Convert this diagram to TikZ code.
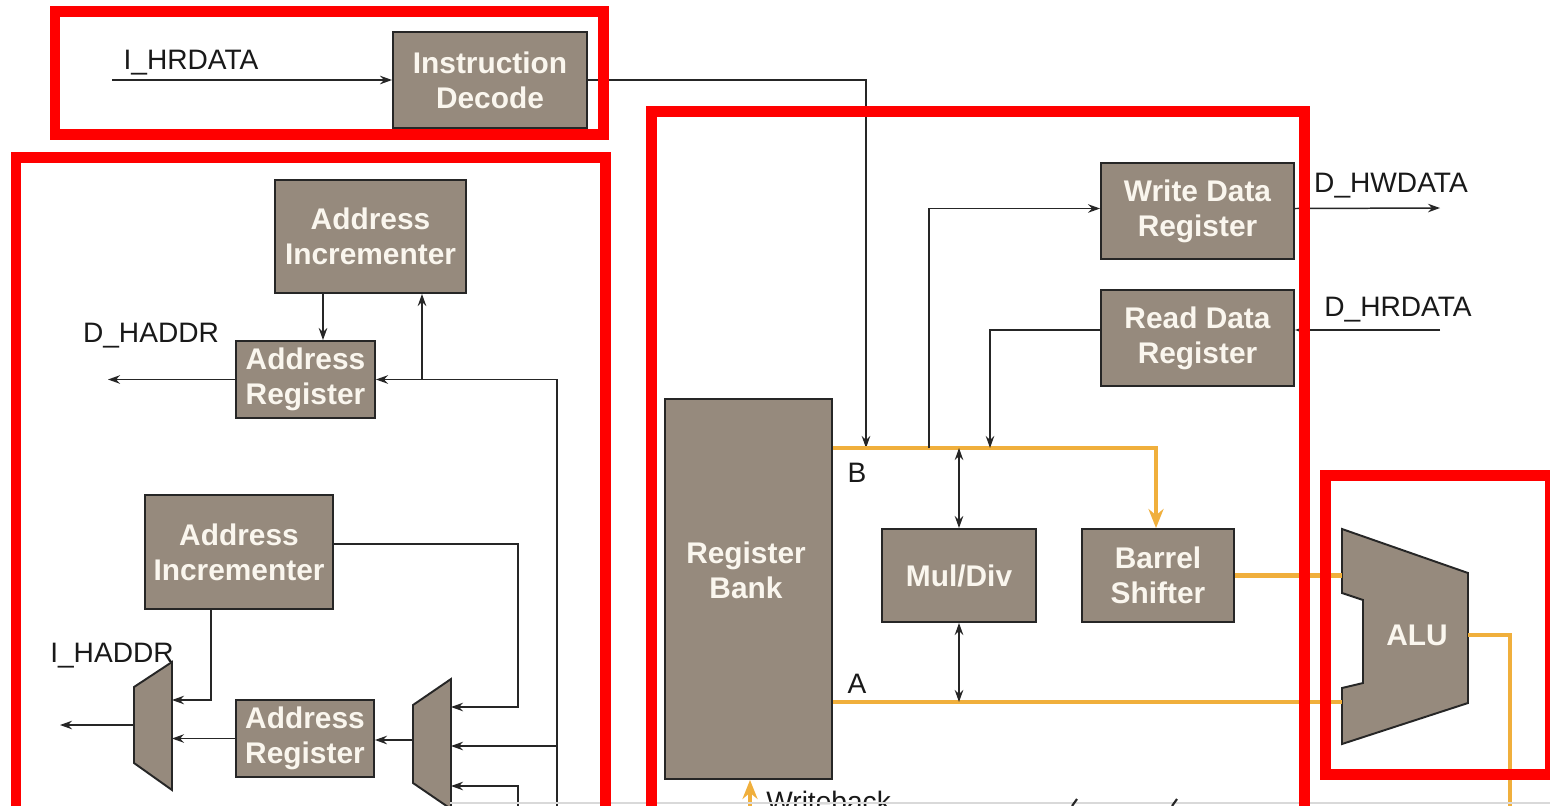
\documentclass[tikz,border=0pt]{standalone}
\usepackage{fontspec}
\setmainfont{Liberation Sans}
\usetikzlibrary{arrows.meta}
\definecolor{boxfill}{RGB}{150,138,125}
\definecolor{boxtext}{RGB}{250,246,238}
\definecolor{busor}{RGB}{240,175,60}
\definecolor{frred}{RGB}{255,0,0}
\begin{document}
\begin{tikzpicture}[x=0.02cm, y=-0.02cm,
  blk/.style={draw=black!85, line width=1.1pt, fill=boxfill, text=boxtext,
    font=\bfseries\fontsize{17}{20}\selectfont, align=center, inner sep=0pt},
  blktext/.style={text=boxtext, font=\bfseries\fontsize{17}{20}\selectfont, align=center, inner sep=0pt},
  lbl/.style={font=\fontsize{16}{19}\selectfont, text=black!90, inner sep=0pt, anchor=base},
  arr/.style={draw=black!85, line width=0.85pt, -{Stealth[length=0.24cm,width=0.17cm]}},
  darr/.style={draw=black!85, line width=0.85pt, {Stealth[length=0.24cm,width=0.17cm]}-{Stealth[length=0.24cm,width=0.17cm]}},
  plain/.style={draw=black!85, line width=0.85pt},
  bus/.style={draw=busor, line width=2.6pt},
  busarr/.style={draw=busor, line width=2.6pt, -{Stealth[length=0.38cm,width=0.3cm]}},
  muxst/.style={draw=black!85, line width=1.1pt, fill=boxfill},
  frame/.style={draw=frred, line width=0.22cm}]
\useasboundingbox (0,0) rectangle (1550,805);
\clip (0,0) rectangle (1550,805);
\fill[white] (0,0) rectangle (1550,805);

% ---------- blocks ----------
\node[blk, minimum width=3.88cm, minimum height=1.92cm] (idec) at (490,80) {Instruction\\Decode};
\node[blk, minimum width=3.82cm, minimum height=2.26cm] (inc1) at (370.5,236.5) {Address\\Incrementer};
\node[blk, minimum width=2.78cm, minimum height=1.54cm] (ar1) at (305.5,379.5) {Address\\Register};
\node[blk, minimum width=3.76cm, minimum height=2.28cm] (inc2) at (239,552) {Address\\Incrementer};
\node[blk, minimum width=2.76cm, minimum height=1.54cm] (ar2) at (305,738.5) {Address\\Register};
\node[blk, minimum width=3.86cm, minimum height=1.92cm] (wdr) at (1197.5,211) {Write Data\\Register};
\node[blk, minimum width=3.86cm, minimum height=1.92cm] (rdr) at (1197.5,338) {Read Data\\Register};
\node[blk, minimum width=3.34cm, minimum height=7.6cm] (rb) at (748.5,589) {};
\node[blktext] (rbt) at (746,570) {Register\\Bank};
\node[blk, minimum width=3.08cm, minimum height=1.86cm] (md) at (959,575.5) {Mul/Div};
\node[blk, minimum width=3.04cm, minimum height=1.86cm] (bs) at (1158,575.5) {Barrel\\Shifter};

% ALU
\draw[muxst] (1342,529) -- (1468,573) -- (1468,703) -- (1342,744) -- (1342,688)
  -- (1363,683) -- (1363,600) -- (1342,593) -- cycle;
\node[blktext] (alu) at (1417,635) {ALU};
\coordinate (aluin) at (1342,0);
\coordinate (aluout) at (1468,635);

% muxes
\draw[muxst] (134,687) -- (172,662) -- (172,790) -- (134,763) -- cycle;
\draw[muxst] (413,705) -- (451,679) -- (451,809) -- (413,783) -- cycle;
\coordinate (m1out) at (134,725);
\coordinate (m1in) at (172,0);
\coordinate (m2out) at (413,740);
\coordinate (m2in) at (451,0);

% ---------- labels ----------
\node[lbl] (lihr) at (191,69) {I\_HRDATA};
\node[lbl] (ldha) at (151,342) {D\_HADDR};
\node[lbl] (liha) at (112,662) {I\_HADDR};
\node[lbl] (ldhw) at (1391,192) {D\_HWDATA};
\node[lbl] (ldhr) at (1398,316) {D\_HRDATA};
\node[lbl] (lb) at (857,482) {B};
\node[lbl] (la) at (857,693) {A};
\node[lbl, anchor=base west] (lwb) at (766,811) {Writeback};

% ---------- top connectors ----------
\coordinate (ihin) at (112,80);
\draw[arr] (ihin) -- (idec.west);
\coordinate (bdrop) at (866,448);
\draw[arr] (idec.east) -| (bdrop);

% ---------- buses ----------
\coordinate (bbend) at (1156,448);
\draw[busarr] (rb.east |- bbend) -- (bbend) -- (bs.north -| bbend);
\coordinate (abus) at (832,702);
\draw[bus] (rb.east |- abus) -- (aluin |- abus);
\draw[bus] (bs.east) -- (aluin |- bs.east);
\coordinate (aluturn) at (1510,635);
\draw[bus] (aluout) -- (aluturn) -- (1510,815);
\coordinate (wbstart) at (750,815);
\draw[busarr] (wbstart) -- (rb.south -| wbstart);

% ---------- datapath connectors ----------
\coordinate (wtap) at (929,448);
\draw[arr] (wtap) |- ([yshift=0.05cm]wdr.west);
\coordinate (hwout) at (1440,208);
\draw[arr] ([yshift=0.05cm]wdr.east) -- (hwout);
\coordinate (hrin) at (1440,330);
\draw[arr] (hrin) -- (rdr.east |- hrin);
\coordinate (rtap) at (990,448);
\draw[arr] (rdr.west |- hrin) -| (rtap);
\coordinate (mdtop) at (959,448);
\coordinate (mdbot) at (959,702);
\draw[darr] (mdtop) -- (md.north);
\draw[darr] (md.south) -- (mdbot);

% ---------- address side ----------
\coordinate (c323) at (323,0);
\draw[arr] (inc1.south -| c323) -- (ar1.north -| c323);
\coordinate (dhout) at (108,379.5);
\draw[arr] (ar1.west) -- (dhout);
\coordinate (fbbot) at (557,815);
\draw[arr] (fbbot) |- (ar1.east);
\coordinate (fbup) at (422,379.5);
\draw[arr] (fbup) -- (inc1.south -| fbup);
\coordinate (br1) at (557,746);
\draw[arr] (br1) -- (m2in |- br1);
\coordinate (c518) at (518,707);
\draw[arr] ([yshift=0.16cm]inc2.east) -| (c518) -- (m2in |- c518);
\coordinate (c518b) at (518,815);
\coordinate (c786) at (0,786);
\draw[arr] (c518b) |- (m2in |- c786);
\draw[arr] (m2out) -- (ar2.east |- m2out);
\draw[arr] (ar2.west) -- (m1in |- ar2.west);
\coordinate (c211) at (211,700);
\draw[arr] (inc2.south -| c211) |- (m1in |- c211);
\coordinate (ihaout) at (60,725);
\draw[arr] (m1out) -- (ihaout);

% bottom edge fragments
\draw[black!15, line width=0.6pt] (450,803) -- (1550,803);
\draw[black!85, line width=1.2pt] (1072,806) -- (1077,799);
\draw[black!85, line width=1.2pt] (1172,806) -- (1177,799);

% ---------- red frames ----------
\draw[frame] (55,11) rectangle (603,134);
\draw[frame] (16,157) rectangle (605,860);
\draw[frame] (651,111) rectangle (1304,860);
\draw[frame] (1325,475) rectangle (1550,774);
\end{tikzpicture}
\end{document}
